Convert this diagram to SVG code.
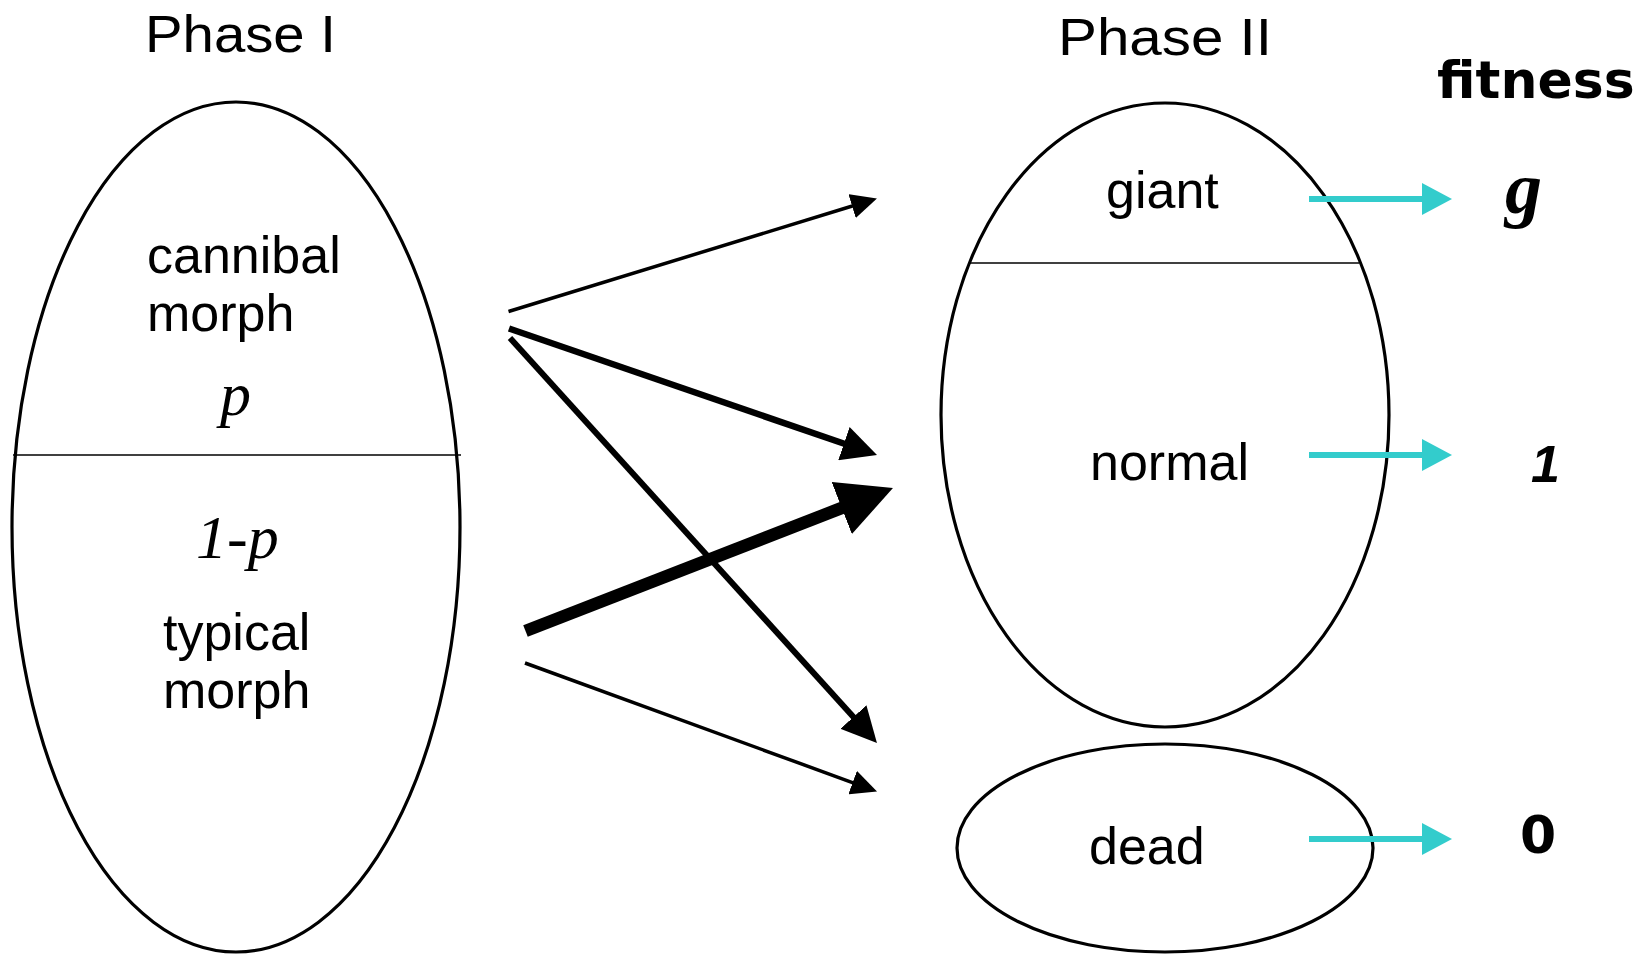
<svg xmlns="http://www.w3.org/2000/svg" width="1652" height="954" viewBox="0 0 1652 954">
<style>
.shape{fill:none;stroke:#000;stroke-width:3.2}
.div{stroke:#000;stroke-width:1.6}
.lbl{font-family:"Liberation Sans",Arial,sans-serif;font-size:52px;fill:#000}
.math{font-family:"Liberation Serif","Times New Roman",serif;font-style:italic;font-size:62px;fill:#000}
.fit{font-family:"DejaVu Sans","Liberation Sans",sans-serif;font-weight:bold;fill:#000}
.arr{stroke:#000;fill:none}
.cy{stroke:#33CCCC;stroke-width:6;fill:none}
</style>
<defs>
<marker id="mThin" markerUnits="userSpaceOnUse" markerWidth="26" markerHeight="25" refX="2" refY="12.5" orient="auto" viewBox="0 0 26 25"><path d="M0,0 L26,12.5 L0,25 z" fill="#000"/></marker>
<marker id="mMed" markerUnits="userSpaceOnUse" markerWidth="35" markerHeight="35" refX="2" refY="17.5" orient="auto" viewBox="0 0 35 35"><path d="M0,0 L35,17.5 L0,35 z" fill="#000"/></marker>
<marker id="mThick" markerUnits="userSpaceOnUse" markerWidth="55" markerHeight="56" refX="3" refY="28" orient="auto" viewBox="0 0 55 56"><path d="M0,0 L55,28 L0,56 z" fill="#000"/></marker>
<marker id="mCyan" markerUnits="userSpaceOnUse" markerWidth="30" markerHeight="32" refX="2" refY="16" orient="auto" viewBox="0 0 30 32"><path d="M0,0 L30,16 L0,32 z" fill="#33CCCC"/></marker>
</defs>
<rect width="1652" height="954" fill="#fff"/>

<g id="titles">
<text class="lbl" x="145" y="52" textLength="191" lengthAdjust="spacingAndGlyphs">Phase I</text>
<text class="lbl" x="1058" y="55" textLength="214" lengthAdjust="spacingAndGlyphs">Phase II</text>
<text class="fit" x="1437" y="98" font-size="52">fitness</text>
</g>

<g id="phase1">
<ellipse class="shape" cx="236" cy="527" rx="224" ry="425"/>
<line class="div" x1="13" y1="455" x2="461" y2="455"/>
<text class="lbl" x="147" y="273">cannibal</text>
<text class="lbl" x="147" y="331">morph</text>
<text class="math" x="220" y="415">p</text>
<text class="math" x="196" y="558">1-p</text>
<text class="lbl" x="163" y="650">typical</text>
<text class="lbl" x="163" y="708">morph</text>
</g>

<g id="phase2">
<ellipse class="shape" cx="1165" cy="415" rx="224" ry="312"/>
<line class="div" x1="969" y1="263" x2="1359" y2="263"/>
<text class="lbl" x="1106" y="208">giant</text>
<text class="lbl" x="1090" y="480">normal</text>
</g>

<g id="dead">
<ellipse class="shape" cx="1165" cy="848" rx="208" ry="104"/>
<text class="lbl" x="1089" y="864">dead</text>
</g>

<g id="fitness-values">
<text x="1505" y="213" font-family="'Liberation Serif','Times New Roman',serif" font-style="italic" font-weight="bold" font-size="74">g</text>
<text x="1531" y="482" font-family="'Liberation Sans',Arial,sans-serif" font-style="italic" font-weight="bold" font-size="52">1</text>
<text class="fit" x="1520" y="853" font-size="52">0</text>
</g>

<g id="connectors">
<line class="arr" stroke-width="3.5" x1="508.5" y1="311.5" x2="854" y2="205.5" marker-end="url(#mThin)"/>
<line class="arr" stroke-width="6.5" x1="509" y1="328.5" x2="845.8" y2="444.3" marker-end="url(#mMed)"/>
<line class="arr" stroke-width="6" x1="510" y1="338" x2="854.8" y2="718.5" marker-end="url(#mMed)"/>
<line class="arr" stroke-width="12.5" x1="525.5" y1="631" x2="844.5" y2="506.9" marker-end="url(#mThick)"/>
<line class="arr" stroke-width="3.5" x1="525" y1="663" x2="854.5" y2="783.3" marker-end="url(#mThin)"/>
<line class="cy" x1="1309" y1="199" x2="1424" y2="199" marker-end="url(#mCyan)"/>
<line class="cy" x1="1309" y1="455" x2="1424" y2="455" marker-end="url(#mCyan)"/>
<line class="cy" x1="1309" y1="839" x2="1424" y2="839" marker-end="url(#mCyan)"/>
</g>
</svg>
